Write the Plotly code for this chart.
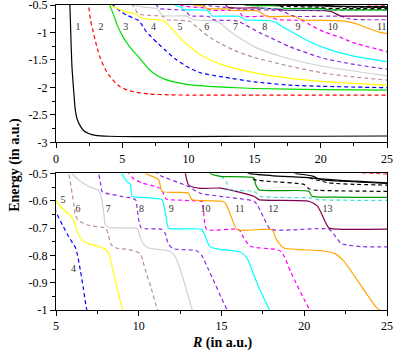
import plotly.graph_objects as go
from plotly.subplots import make_subplots

# curve data: R (a.u.) and energy (a.u.)
R1 = [1.0, 1.05, 1.12, 1.2, 1.3, 1.38, 1.45, 1.6, 1.83, 2.1, 2.46, 3.0, 4.0, 6, 10, 15, 20, 25]
E1 = [-0.3, -0.5, -1.05, -1.6, -1.95, -2.2, -2.4, -2.58, -2.7, -2.79, -2.84, -2.875, -2.89, -2.895, -2.895, -2.89, -2.89, -2.885]

R2 = [2.4, 2.46, 2.6, 2.75, 2.95, 3.15, 3.35, 3.7, 4.1, 4.5, 4.85, 5.4, 5.85, 7, 8.5, 10, 15, 20, 25]
E2 = [-0.42, -0.5, -0.77, -0.93, -1.13, -1.32, -1.47, -1.66, -1.81, -1.92, -1.99, -2.05, -2.08, -2.12, -2.135, -2.14, -2.14, -2.14, -2.14]

R3 = [4.0, 4.05, 4.35, 4.65, 4.95, 5.3, 5.8, 6.22, 6.6, 6.98, 7.6, 8.2, 8.9, 10, 11.5, 13, 15, 20, 25]
E3 = [-0.47, -0.5, -0.68, -0.88, -1.03, -1.17, -1.33, -1.44, -1.55, -1.66, -1.78, -1.85, -1.9, -1.95, -1.98, -2.0, -2.02, -2.04, -2.05]

R4 = [4.2, 4.3, 4.6, 5.0, 5.4, 5.77, 6.0, 6.17, 6.3, 6.47, 6.65, 6.83, 7.2, 7.7, 8.24, 9, 10.1, 11, 12.6, 15, 17.7, 20, 25]
E4 = [-0.48, -0.5, -0.56, -0.64, -0.69, -0.732, -0.755, -0.771, -0.8, -0.854, -0.92, -0.99, -1.08, -1.2, -1.32, -1.48, -1.65, -1.74, -1.81, -1.9, -1.96, -1.98, -2.006]

R5 = [4.0, 4.1, 4.5, 5.0, 5.5, 5.9, 6.1, 6.3, 6.6, 7.0, 7.6, 8.0, 8.2, 8.5, 9.0, 9.5, 10.1, 11, 12.6, 15.1, 17.7, 20, 25]
E5 = [-0.48, -0.5, -0.55, -0.6, -0.635, -0.655, -0.675, -0.715, -0.745, -0.758, -0.768, -0.778, -0.795, -0.87, -0.995, -1.13, -1.26, -1.42, -1.59, -1.74, -1.835, -1.89, -1.96]

R6 = [5.7, 5.77, 5.9, 5.97, 6.07, 6.17, 6.3, 6.47, 6.98, 7.5, 7.98, 8.15, 8.29, 8.45, 8.7, 9.3, 9.8, 10.1, 10.25, 10.4, 10.75, 11.1, 11.7, 12.4, 13.5, 14.9, 17.4, 20.2, 22.5, 25]
E6 = [-0.48, -0.5, -0.545, -0.573, -0.61, -0.652, -0.668, -0.677, -0.69, -0.695, -0.7, -0.72, -0.756, -0.768, -0.774, -0.778, -0.785, -0.795, -0.82, -0.854, -0.92, -0.994, -1.1, -1.2, -1.33, -1.45, -1.6, -1.74, -1.81, -1.866]

R7 = [5.9, 5.97, 6.2, 6.47, 7.0, 7.58, 7.7, 7.78, 7.9, 7.98, 8.2, 9, 9.9, 10.1, 10.3, 10.6, 11.8, 12.0, 12.2, 12.5, 12.85, 13.2, 14, 15.15, 17.5, 20.2, 25]
E7 = [-0.49, -0.5, -0.515, -0.529, -0.548, -0.563, -0.58, -0.602, -0.65, -0.688, -0.698, -0.7, -0.702, -0.737, -0.76, -0.773, -0.783, -0.79, -0.804, -0.85, -0.92, -0.993, -1.12, -1.28, -1.47, -1.62, -1.79]

R8 = [7.55, 7.58, 7.7, 7.78, 7.98, 9, 9.8, 9.9, 10.0, 10.15, 10.5, 11.4, 11.6, 11.8, 12.1, 13.0, 13.5, 13.8, 14.2, 15.34, 16.5, 17.66, 20.2, 22.5, 25]
E8 = [-0.48, -0.5, -0.54, -0.566, -0.572, -0.585, -0.596, -0.627, -0.67, -0.7, -0.703, -0.705, -0.72, -0.76, -0.776, -0.78, -0.783, -0.8, -0.85, -1.0, -1.13, -1.26, -1.47, -1.58, -1.67]

R9 = [8.95, 8.99, 9.3, 9.5, 9.6, 10, 11.0, 11.4, 11.6, 11.8, 12.5, 13.8, 13.95, 14.3, 14.9, 16.1, 16.4, 16.6, 17.2, 17.9, 19, 20.5, 22.5, 25]
E9 = [-0.49, -0.5, -0.53, -0.541, -0.584, -0.587, -0.592, -0.596, -0.639, -0.7, -0.703, -0.705, -0.72, -0.768, -0.778, -0.787, -0.8, -0.817, -0.91, -1.0, -1.15, -1.3, -1.43, -1.53]

R10 = [9.35, 9.4, 9.7, 10.2, 11.0, 11.35, 11.5, 11.65, 12.5, 13.5, 13.83, 13.93, 14.1, 16.05, 16.35, 16.75, 18.37, 18.67, 19.17, 20.28, 21.5, 22.4, 25]
E10 = [-0.49, -0.5, -0.52, -0.535, -0.548, -0.556, -0.575, -0.594, -0.598, -0.601, -0.603, -0.65, -0.705, -0.706, -0.737, -0.767, -0.779, -0.79, -0.859, -0.993, -1.09, -1.18, -1.35]

R11 = [10.3, 10.4, 11.2, 11.41, 13.0, 13.2, 15.04, 15.24, 15.54, 15.95, 18.07, 18.27, 18.47, 18.77, 20.99, 21.8, 22.4, 24.4, 25]
E11 = [-0.49, -0.5, -0.523, -0.566, -0.572, -0.596, -0.602, -0.609, -0.651, -0.706, -0.706, -0.737, -0.755, -0.773, -0.783, -0.792, -0.822, -0.993, -1.016]

R12 = [11.0, 11.21, 13.0, 13.73, 14.94, 16.96, 17.16, 17.56, 17.96, 21.49, 21.8, 22.2, 22.4, 23.4, 25]
E12 = [-0.49, -0.505, -0.548, -0.573, -0.584, -0.602, -0.615, -0.663, -0.704, -0.704, -0.724, -0.755, -0.76, -0.768, -0.769]

R13 = [12.8, 12.82, 13.02, 13.73, 14.94, 16.96, 17.26, 20.28, 20.8, 21.49, 22.0, 25]
E13 = [-0.49, -0.5, -0.543, -0.555, -0.554, -0.584, -0.596, -0.602, -0.62, -0.7, -0.704, -0.704]

R14 = [14.7, 14.8, 15.3, 15.44, 16.0, 16.96, 17.36, 18.5, 20.38, 20.8, 22.0, 25]
E14 = [-0.49, -0.5, -0.53, -0.56, -0.563, -0.566, -0.584, -0.588, -0.59, -0.596, -0.598, -0.599]

R15 = [14.2, 14.3, 14.94, 16.96, 17.06, 17.26, 18.5, 20.28, 20.48, 22.0, 25]
E15 = [-0.49, -0.5, -0.511, -0.517, -0.54, -0.56, -0.563, -0.566, -0.584, -0.587, -0.588]

R16 = [16.5, 16.65, 18.0, 20.0, 22.0, 25]
E16 = [-0.495, -0.5, -0.508, -0.515, -0.525, -0.535]

R17 = [16.9, 16.96, 18.0, 20.0, 20.28, 20.6, 22.0, 25]
E17 = [-0.52, -0.523, -0.53, -0.541, -0.556, -0.561, -0.564, -0.566]

R18 = [19.3, 19.5, 20.5, 21.0, 22.0, 25]
E18 = [-0.495, -0.5, -0.51, -0.523, -0.528, -0.537]

R19 = [20.3, 20.5, 21.5, 23.0, 25]
E19 = [-0.515, -0.52, -0.535, -0.54, -0.543]

R20 = [23.5, 24.2, 25]
E20 = [-0.498, -0.5, -0.502]

curves_R = [R1, R2, R3, R4, R5, R6, R7, R8, R9, R10, R11, R12, R13, R14, R15, R16, R17, R18, R19, R20]
curves_E = [E1, E2, E3, E4, E5, E6, E7, E8, E9, E10, E11, E12, E13, E14, E15, E16, E17, E18, E19, E20]
colors = ["#000000", "#ff0000", "#00dd00", "#0000ff", "#ffff00", "#bc8f8f", "#d0d0d0",
          "#8a2be2", "#00ffff", "#ff00ff", "#ffa500", "#8a2be2", "#800050", "#40e0d0",
          "#009900", "#000000", "#000000", "#000000", "#000000", "#ff0000"]
dashes = ["solid", "dash", "solid", "dash", "solid", "dash", "solid", "dash", "solid", "dash",
          "solid", "dash", "solid", "dash", "solid", "solid", "dash", "solid", "dash", "dash"]

# curve number labels
top_lab = ["1", "2", "3", "4", "5", "6", "7", "8", "9", "10", "11"]
top_lab_R = [1.66, 3.39, 5.27, 7.36, 9.37, 11.38, 13.56, 15.77, 18.28, 20.9, 24.6]
top_lab_E = [-0.91] * 11
bot_lab = ["5", "6", "7", "8", "9", "10", "11", "12", "13", "4"]
bot_lab_R = [5.43, 6.33, 8.15, 10.16, 11.96, 14.03, 16.1, 18.13, 21.4, 6.06]
bot_lab_E = [-0.599, -0.633, -0.633, -0.633, -0.633, -0.633, -0.633, -0.633, -0.633, -0.853]

top_ticks = [-3, -2.5, -2, -1.5, -1, -0.5]
top_ticktext = ["-3", "-2.5", "-2", "-1.5", "-1", "-0.5"]
bot_ticks = [-1, -0.9, -0.8, -0.7, -0.6, -0.5]
bot_ticktext = ["-1", "-0.9", "-0.8", "-0.7", "-0.6", "-0.5"]

SERIF = "Liberation Serif, Times New Roman, serif"

fig = make_subplots(rows=2, cols=1)

for r, e, c, d in zip(curves_R, curves_E, colors, dashes):
    for row in (1, 2):
        fig.add_trace(go.Scatter(x=r, y=e, mode="lines",
                                 line=dict(color=c, width=1.2, dash="4px,3px" if d == "dash" else "solid",
                                           shape="spline", smoothing=0.6)),
                      row=row, col=1)

fig.add_trace(go.Scatter(x=top_lab_R, y=top_lab_E, mode="text", text=top_lab,
                         textfont=dict(family=SERIF, size=10, color="#333333")), row=1, col=1)
fig.add_trace(go.Scatter(x=bot_lab_R, y=bot_lab_E, mode="text", text=bot_lab,
                         textfont=dict(family=SERIF, size=10, color="#333333")), row=2, col=1)

axis_style = dict(showline=True, linecolor="black", linewidth=1, mirror=True, ticks="outside",
                  ticklen=5, tickwidth=1, tickcolor="black", showgrid=False, zeroline=False,
                  automargin=False, ticklabeloverflow="allow",
                  tickfont=dict(family=SERIF, size=12, color="black"))

fig.update_xaxes(axis_style)
fig.update_yaxes(axis_style)
fig.update_xaxes(range=[0, 25], dtick=5, minor=dict(dtick=2.5, ticks="outside", ticklen=3, tickcolor="black"), row=1, col=1)
fig.update_xaxes(range=[5, 25], dtick=5, minor=dict(dtick=2.5, ticks="outside", ticklen=3, tickcolor="black"), row=2, col=1)
fig.update_yaxes(range=[-3, -0.5], tickvals=top_ticks, ticktext=top_ticktext, domain=[0.5498, 1],
                 minor=dict(dtick=0.25, ticks="outside", ticklen=3, tickcolor="black"), row=1, col=1)
fig.update_yaxes(range=[-1, -0.5], tickvals=bot_ticks, ticktext=bot_ticktext, domain=[0, 0.448],
                 minor=dict(dtick=0.05, ticks="outside", ticklen=3, tickcolor="black"), row=2, col=1)

fig.add_annotation(text="<b>Energy (in a.u.)</b>", xref="paper", yref="paper", x=-0.125, y=0.475,
                   xanchor="center", yanchor="middle", textangle=-90, showarrow=False,
                   font=dict(family=SERIF, size=14, color="black"))
fig.add_annotation(text="<b><i>R</i> (in a.u.)</b>", xref="paper", yref="paper", x=0.5, y=-0.108,
                   xanchor="center", yanchor="middle", showarrow=False,
                   font=dict(family=SERIF, size=14, color="black"))

fig.update_layout(width=395, height=353, margin=dict(l=56, r=8, t=5, b=43), showlegend=False,
                  plot_bgcolor="white", paper_bgcolor="white")

# the page's default body margin would push the figure off the window
fig.write_html("out.html", config={"displayModeBar": False},
               post_script="document.body.style.margin='0';")
